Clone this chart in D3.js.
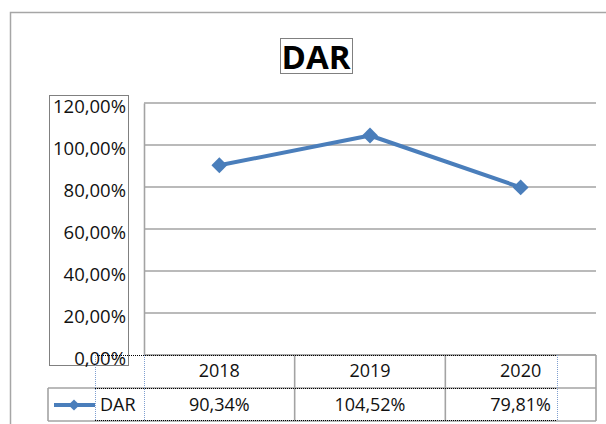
<!DOCTYPE html>
<html>
<head>
<meta charset="utf-8">
<script src="https://cdnjs.cloudflare.com/ajax/libs/d3/7.8.5/d3.min.js"></script>
<style>
  html, body { margin: 0; padding: 0; background: #fff; }
  svg { display: block; }
</style>
</head>
<body>
<div id="chart"></div>
<script>
var years = ['2018', '2019', '2020'];
var darValues = [0.9034, 1.0452, 0.7981];
var yTicks = [0, 0.2, 0.4, 0.6, 0.8, 1.0, 1.2];
var seriesName = 'DAR';
var chartTitle = 'DAR';

var W = 606, H = 424;
var plotLeft = 144, plotRight = 596, plotTop = 103, plotBottom = 355;
var rowH = 33;
var gridColor = '#a3a3a3', lineColor = '#4a7ebb', textColor = '#111';
var font = "'Open Sans', sans-serif";

var locale = d3.formatLocale({decimal: ',', thousands: '.', grouping: [3], currency: ['', '']});
var pct = locale.format('.2%');

var svg = d3.select('#chart').append('svg').attr('width', W).attr('height', H);

// outer chart frame
svg.append('path').attr('d', 'M10.5,' + H + 'V12.5H' + W)
  .attr('fill', 'none').attr('stroke', '#a6a6a6').attr('stroke-width', 1.5);

// title
svg.append('text').attr('x', 316).attr('y', 69).attr('text-anchor', 'middle')
  .attr('font-family', font).attr('font-weight', 'bold').attr('font-size', 33)
  .attr('fill', '#000').text(chartTitle);
svg.append('rect').attr('x', 280.5).attr('y', 38.5).attr('width', 72).attr('height', 35)
  .attr('fill', 'none').attr('stroke', '#000').attr('stroke-width', 1).attr('stroke-dasharray', '1,1');

var x = d3.scaleBand().domain(years).range([plotLeft, plotRight]);
var y = d3.scaleLinear().domain([0, 1.2]).range([plotBottom, plotTop]);

// gridlines
svg.append('g').selectAll('line').data(yTicks).enter().append('line')
  .attr('x1', plotLeft).attr('x2', plotRight)
  .attr('y1', function(d) { return y(d); }).attr('y2', function(d) { return y(d); })
  .attr('stroke', gridColor).attr('stroke-width', 1.6);

// y axis
var yAxis = d3.axisLeft(y).tickValues(yTicks).tickSize(0).tickPadding(18).tickFormat(pct);
var yG = svg.append('g').attr('transform', 'translate(' + plotLeft + ',0)').call(yAxis);
yG.select('.domain').attr('stroke', gridColor).attr('stroke-width', 1.6);
yG.selectAll('text').attr('font-family', font).attr('font-size', 18.5).attr('fill', textColor)
  .attr('dy', '0.49em');
svg.append('rect').attr('x', 49.5).attr('y', 95.5).attr('width', 79).attr('height', 270)
  .attr('fill', 'none').attr('stroke', '#000').attr('stroke-width', 1).attr('stroke-dasharray', '1,1');

// series line
var line = d3.line()
  .x(function(d, i) { return x(years[i]) + x.bandwidth() / 2; })
  .y(function(d) { return y(d); });
svg.append('path').datum(darValues).attr('d', line)
  .attr('fill', 'none').attr('stroke', lineColor).attr('stroke-width', 4).attr('stroke-linejoin', 'round');
svg.append('g').selectAll('path').data(darValues).enter().append('path')
  .attr('d', d3.symbol().type(d3.symbolDiamond2).size(160))
  .attr('transform', function(d, i) {
    return 'translate(' + (x(years[i]) + x.bandwidth() / 2) + ',' + y(d) + ')';
  })
  .attr('fill', lineColor);

// data table
var t = svg.append('g');
var headerTop = plotBottom, dataTop = plotBottom + rowH, tableBottom = plotBottom + 2 * rowH;
t.selectAll('line.h').data([headerTop, dataTop]).enter().append('line')
  .attr('x1', function(d, i) { return i === 0 ? plotLeft : 48; }).attr('x2', plotRight)
  .attr('y1', function(d) { return d; }).attr('y2', function(d) { return d; })
  .attr('stroke', gridColor).attr('stroke-width', 1.6);
t.append('line').attr('x1', 48).attr('x2', plotRight).attr('y1', tableBottom).attr('y2', tableBottom)
  .attr('stroke', gridColor).attr('stroke-width', 1.6);
t.append('line').attr('x1', 48).attr('x2', 48).attr('y1', dataTop).attr('y2', tableBottom)
  .attr('stroke', gridColor).attr('stroke-width', 1.6);
t.selectAll('line.v').data(years).enter().append('line')
  .attr('x1', function(d) { return x(d) + x.bandwidth(); }).attr('x2', function(d) { return x(d) + x.bandwidth(); })
  .attr('y1', headerTop).attr('y2', tableBottom)
  .attr('stroke', gridColor).attr('stroke-width', 1.6);

t.selectAll('text.year').data(years).enter().append('text')
  .attr('x', function(d) { return x(d) + x.bandwidth() / 2; }).attr('y', headerTop + 22)
  .attr('text-anchor', 'middle').attr('font-family', font).attr('font-size', 18).attr('fill', textColor)
  .text(function(d) { return d; });
t.selectAll('text.val').data(darValues).enter().append('text')
  .attr('x', function(d, i) { return x(years[i]) + x.bandwidth() / 2; }).attr('y', dataTop + 23)
  .attr('text-anchor', 'middle').attr('font-family', font).attr('font-size', 18).attr('fill', textColor)
  .text(function(d) { return pct(d); });

// legend key in table
t.append('line').attr('x1', 54).attr('x2', 95).attr('y1', dataTop + 17).attr('y2', dataTop + 17)
  .attr('stroke', lineColor).attr('stroke-width', 4);
t.append('path').attr('d', d3.symbol().type(d3.symbolDiamond2).size(80))
  .attr('transform', 'translate(74,' + (dataTop + 17) + ')').attr('fill', lineColor);
t.append('text').attr('x', 100).attr('y', dataTop + 23).attr('font-family', font).attr('font-size', 18)
  .attr('fill', textColor).text(seriesName);

// selection marks (dotted)
t.selectAll('line.sel').data([headerTop, dataTop, tableBottom - 1]).enter().append('line')
  .attr('x1', 95).attr('x2', 557).attr('y1', function(d) { return d + 0.5; }).attr('y2', function(d) { return d + 0.5; })
  .attr('stroke', '#000').attr('stroke-width', 1).attr('stroke-dasharray', '1,1');
t.selectAll('line.selv').data([95, plotLeft, 557]).enter().append('line')
  .attr('x1', function(d) { return d + 0.5; }).attr('x2', function(d) { return d + 0.5; })
  .attr('y1', headerTop).attr('y2', tableBottom)
  .attr('stroke', '#7f9fd0').attr('stroke-width', 1).attr('stroke-dasharray', '1,1');
</script>
</body>
</html>
